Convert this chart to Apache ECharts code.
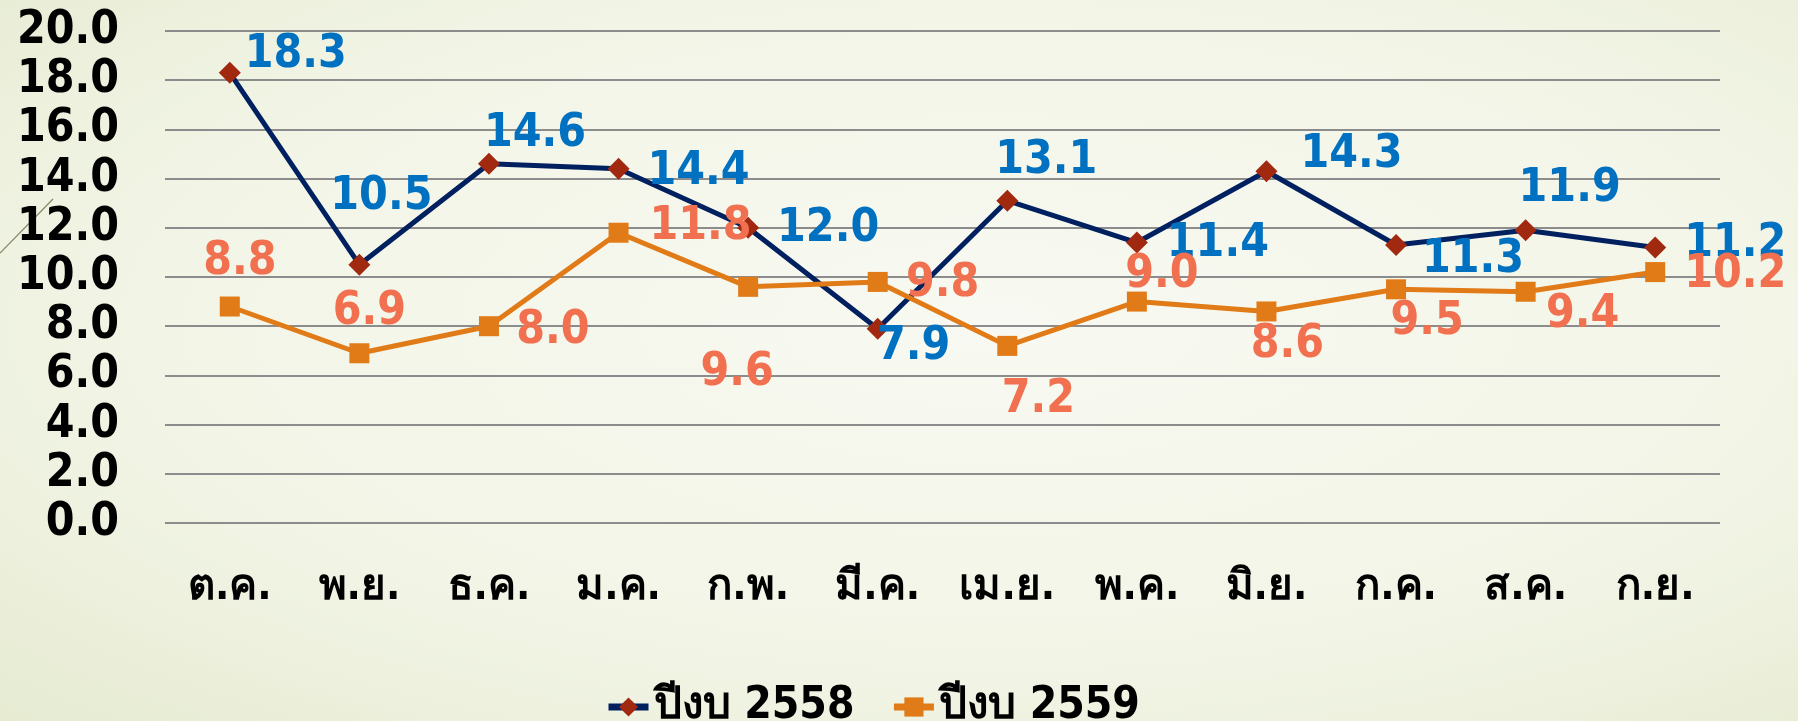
<!DOCTYPE html>
<html>
<head>
<meta charset="utf-8">
<style>
  html, body { margin: 0; padding: 0; }
  body {
    width: 1798px; height: 721px;
    background: radial-gradient(ellipse at 55% 45%, #f8f9f2 0%, #f2f5e6 60%, #e6ebd2 100%);
  }
  #chart { width: 1798px; height: 721px; }
</style>
<script src="https://cdn.jsdelivr.net/npm/echarts@6/dist/echarts.min.js"></script>
</head>
<body>
<div id="chart"></div>
<script>
// เดือน (ปีงบประมาณ)
var months = ["ต.ค.", "พ.ย.", "ธ.ค.", "ม.ค.", "ก.พ.", "มี.ค.", "เม.ย.", "พ.ค.", "มิ.ย.", "ก.ค.", "ส.ค.", "ก.ย."];
var names = ["ปีงบ 2558", "ปีงบ 2559"];
var fy2558 = [18.3, 10.5, 14.6, 14.4, 12.0, 7.9, 13.1, 11.4, 14.3, 11.3, 11.9, 11.2];
var fy2559 = [8.8, 6.9, 8.0, 11.8, 9.6, 9.8, 7.2, 9.0, 8.6, 9.5, 9.4, 10.2];

// ตำแหน่ง label เทียบกับจุด (px)
var off2558 = [[66, -18], [22, -68], [46, -30], [80, 3], [80, 1], [36, 18], [39, -40], [81, 1], [85, -16], [77, 15], [44, -41], [80, -3]];
var off2559 = [[10, -44], [10, -41], [64, 5], [82, -6], [-11, 86], [65, 2], [31, 54], [25, -27], [21, 34], [31, 33], [57, 23], [80, 3]];

var font = "'DejaVu Sans Condensed', 'DejaVu Sans', 'Noto Sans', sans-serif";
var fs = 46;

function withLabels(vals, offs) {
  return vals.map(function (v, i) {
    return { value: v, label: { offset: offs[i] } };
  });
}

var myChart = echarts.init(document.getElementById("chart"));

var option = {
  backgroundColor: "transparent",
  animation: false,
  textStyle: { fontFamily: font },
  grid: { left: 165, right: 78, top: 31, bottom: 198 },
  legend: {
    data: names,
    left: 600,
    top: 680,
    itemWidth: 40,
    itemHeight: 24,
    itemGap: 36,
    lineStyle: { width: 7 },
    textStyle: { fontSize: 44, fontWeight: "bold", color: "#000", fontFamily: font }
  },
  xAxis: {
    type: "category",
    data: months,
    axisLine: { show: false },
    axisTick: { show: false },
    axisLabel: { interval: 0, fontSize: 42, fontWeight: "bold", color: "#000", margin: 44 }
  },
  yAxis: {
    type: "value",
    min: 0,
    max: 20,
    interval: 2,
    axisLine: { show: false },
    axisTick: { show: false },
    splitLine: { lineStyle: { color: "#8c8c8c", width: 2 } },
    axisLabel: {
      fontSize: fs, fontWeight: "bold", color: "#000", margin: 46,
      formatter: function (v) { return v.toFixed(1); }
    }
  },
  graphic: [{
    type: "line",
    shape: { x1: 0, y1: 253, x2: 53, y2: 199 },
    style: { stroke: "#8a8468", lineWidth: 1.2 }
  }],
  series: [
    {
      name: names[0],
      type: "line",
      data: withLabels(fy2558, off2558),
      symbol: "diamond",
      symbolSize: 22,
      lineStyle: { color: "#002060", width: 5 },
      itemStyle: { color: "#a0290f" },
      label: {
        show: true,
        position: "inside",
        fontSize: fs,
        fontWeight: "bold",
        color: "#0070c0",
        formatter: function (p) { return p.value.toFixed(1); }
      },
      z: 2
    },
    {
      name: names[1],
      type: "line",
      data: withLabels(fy2559, off2559),
      symbol: "rect",
      symbolSize: 20,
      lineStyle: { color: "#e07b18", width: 5 },
      itemStyle: { color: "#e07b18" },
      label: {
        show: true,
        position: "inside",
        fontSize: fs,
        fontWeight: "bold",
        color: "#f07050",
        formatter: function (p) { return p.value.toFixed(1); }
      },
      z: 3
    }
  ]
};

myChart.setOption(option);
window.onresize = function () {
  myChart.resize();
};
</script>
</body>
</html>
